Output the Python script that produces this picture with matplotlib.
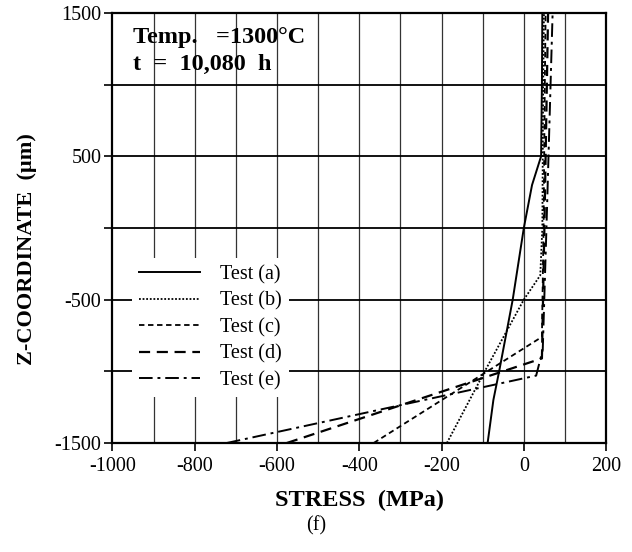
import matplotlib
matplotlib.use("Agg")
import matplotlib.pyplot as plt
import numpy as np

plt.rcParams['font.family'] = ['Liberation Serif', 'DejaVu Serif']
plt.rcParams['mathtext.fontset'] = 'stix'

# Data (stress in MPa, z in micrometres)
stress_a = [-88, -74, -60, -27, 0, 20, 42, 44, 45]
z_a = [-1500, -1200, -1000, -500, 0, 300, 500, 1000, 1500]

stress_b = [-187, -95, 0, 40, 45, 47, 49]
z_b = [-1500, -1000, -500, -330, 0, 1000, 1500]

stress_c = [-365, 44, 48, 51, 53]
z_c = [-1500, -760, 0, 1000, 1500]

stress_d = [-576, 44, 50, 56, 59]
z_d = [-1500, -910, 0, 1000, 1500]

stress_e = [-722, 30, 46, 55, 65, 70]
z_e = [-1500, -1030, -850, 0, 1000, 1500]

labels = ["Test (a)", "Test (b)", "Test (c)", "Test (d)", "Test (e)"]

x_major = [-1000, -800, -600, -400, -200, 0, 200]
x_grid = list(range(-900, 200, 100))
y_ticks = [1500, 1000, 500, 0, -500, -1000, -1500]
y_ticklabels = ["1500", "", "500", "", "-500", "", "-1500"]

fig = plt.figure(figsize=(6.32, 5.52), dpi=100)
ax = fig.add_axes([0.178, 0.1975, 0.781, 0.779])

# grid
for gx in x_grid:
    ax.axvline(gx, color='#333333', lw=0.9, zorder=1)
for gy in [1000, 500, 0, -500, -1000]:
    ax.axhline(gy, color='black', lw=1.3, zorder=1)

styles = [
    dict(ls='-', lw=1.4),
    dict(ls=(0, (1, 1)), lw=1.3),
    dict(ls=(0, (3, 2)), lw=1.3),
    dict(ls=(0, (5, 3)), lw=1.6),
    dict(ls=(0, (7, 2.5, 1.5, 2.5)), lw=1.4),
]
data = [(stress_a, z_a), (stress_b, z_b), (stress_c, z_c), (stress_d, z_d), (stress_e, z_e)]
for (sx, sz), st, lab in zip(data, styles, labels):
    ax.plot(sx, sz, color='black', label=lab, zorder=3, **st)

ax.set_xlim(-1000, 200)
ax.set_ylim(-1500, 1500)
ax.set_xticks(x_major)
ax.set_xticklabels([str(v) for v in x_major])
ax.set_yticks(y_ticks)
ax.set_yticklabels(y_ticklabels)
ax.tick_params(axis='both', labelsize=14.5, direction='out', length=6, width=1.2, colors='black')
ax.tick_params(axis='x', pad=4)
ax.tick_params(axis='y', pad=2)
for sp in ax.spines.values():
    sp.set_linewidth(1.6)

ax.set_xlabel("STRESS  (MPa)", fontsize=17.5, fontweight='bold', labelpad=10)
ax.set_ylabel("Z-COORDINATE  (\u00b5m)", fontsize=16, fontweight='bold')
ax.yaxis.set_label_coords(-0.152, 0.451)

leg = ax.legend(loc='upper left', bbox_to_anchor=(0.039, 0.430), borderaxespad=0,
                frameon=True, fancybox=False, framealpha=1, edgecolor='none',
                facecolor='white', fontsize=14.5, handlelength=3.05, handletextpad=1.0,
                labelspacing=0.36, borderpad=0.35)
leg.set_zorder(5)
for l in leg.get_lines():
    l.set_color('black')

ax.text(0.042, 0.967, "Temp.   =1300\u00b0C\nt  =  10,080  h", transform=ax.transAxes,
        fontsize=17.5, fontweight='bold', va='top', ha='left', linespacing=1.35, zorder=6)

fig.text(0.5, 0.047, "(f)", ha='center', va='center', fontsize=14.5)

fig.savefig("out.png", dpi=100)
